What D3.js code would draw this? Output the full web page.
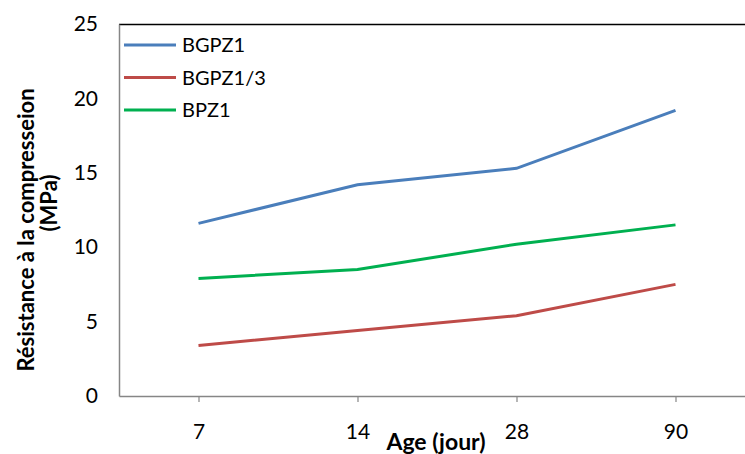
<!DOCTYPE html>
<html>
<head>
<meta charset="UTF-8">
<script src="https://cdnjs.cloudflare.com/ajax/libs/d3/7.8.5/d3.min.js"></script>
<style>
    body { margin: 0; background: #fff; }
    text { font-family: Lato, "Open Sans", sans-serif; fill: #000; }
</style>
</head>
<body>
<svg id="chart" width="745" height="454"></svg>
<script>
    var ages = ["7", "14", "28", "90"];
    var seriesNames = ["BGPZ1", "BGPZ1/3", "BPZ1"];
    var bgpz1 = [11.6, 14.2, 15.3, 19.2];
    var bgpz13 = [3.4, 4.4, 5.4, 7.5];
    var bpz1 = [7.9, 8.5, 10.2, 11.5];
    var yTicks = [0, 5, 10, 15, 20, 25];
    var colors = ["#4a7ebb", "#be4b48", "#00b050"];

    var series = [bgpz1, bgpz13, bpz1];

    var svg = d3.select("#chart");
    var plotLeft = 119, plotTop = 24, plotBottom = 396, plotRight = 755;

    var x = d3.scalePoint()
        .domain(ages)
        .range([plotLeft, plotRight])
        .padding(0.5);
    var y = d3.scaleLinear()
        .domain([0, 25])
        .range([plotBottom, plotTop]);

    // top border
    svg.append("line")
        .attr("x1", plotLeft).attr("x2", 745)
        .attr("y1", plotTop + 0.5).attr("y2", plotTop + 0.5)
        .style("stroke", "#000").style("stroke-width", 1.5);

    // y axis
    var yAxis = svg.append("g")
        .attr("transform", "translate(" + plotLeft + ",0)")
        .call(d3.axisLeft(y).tickValues(yTicks).tickSize(0).tickPadding(21));
    yAxis.select(".domain").style("stroke", "#868686").style("stroke-width", 1.5);
    yAxis.selectAll("text").style("font-size", "21px");

    // x axis
    var xAxis = svg.append("g")
        .attr("transform", "translate(0," + plotBottom + ")")
        .call(d3.axisBottom(x).tickSizeInner(6).tickSizeOuter(0).tickPadding(22));
    xAxis.select(".domain").style("stroke", "#868686").style("stroke-width", 1.5);
    xAxis.selectAll(".tick line").style("stroke", "#868686").style("stroke-width", 1.2);
    xAxis.selectAll("text").style("font-size", "21px");

    // lines
    var line = d3.line()
        .x((d, i) => x(ages[i]))
        .y(d => y(d));

    svg.selectAll("path.series")
        .data(series)
        .enter()
        .append("path")
        .attr("class", "series")
        .attr("d", line)
        .style("fill", "none")
        .style("stroke", (d, i) => colors[i])
        .style("stroke-width", 3);

    // legend
    var legend = svg.selectAll("g.legend")
        .data(seriesNames)
        .enter()
        .append("g")
        .attr("class", "legend")
        .attr("transform", (d, i) => "translate(124," + (45 + i * 32.5) + ")");
    legend.append("line")
        .attr("x1", 0).attr("x2", 52)
        .style("stroke", (d, i) => colors[i])
        .style("stroke-width", 3);
    legend.append("text")
        .attr("x", 58)
        .attr("dy", "0.35em")
        .style("font-size", "20px")
        .text(d => d);

    // axis titles
    svg.append("text")
        .attr("x", 436).attr("y", 450)
        .style("text-anchor", "middle")
        .style("font-size", "23px")
        .style("font-weight", "bold")
        .text("Age (jour)");

    svg.append("text")
        .attr("transform", "translate(34,230) rotate(-90)")
        .style("text-anchor", "middle")
        .style("font-size", "22px")
        .style("font-weight", "bold")
        .text("Résistance à la compresseion");
    svg.append("text")
        .attr("transform", "translate(57,203) rotate(-90)")
        .style("text-anchor", "middle")
        .style("font-size", "22px")
        .style("font-weight", "bold")
        .text("(MPa)");
</script>
</body>
</html>
